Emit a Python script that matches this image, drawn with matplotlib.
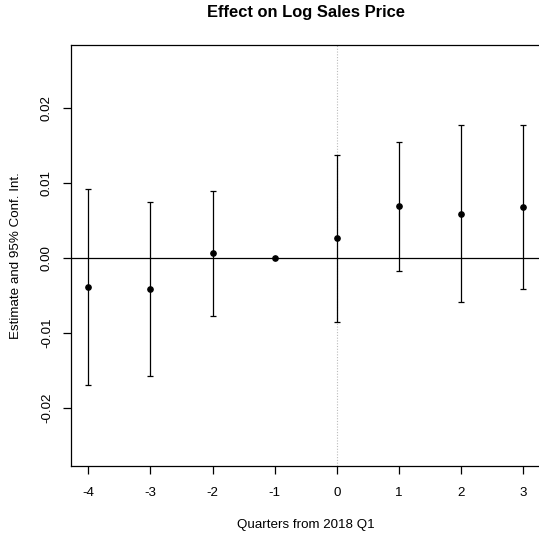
import matplotlib
matplotlib.use("Agg")
import matplotlib.pyplot as plt

plt.rcParams['font.family'] = ['Liberation Sans', 'DejaVu Sans']

# Event-study estimates and 95% confidence bounds
quarters = [-4, -3, -2, -1, 0, 1, 2, 3]
estimate = [-0.0039, -0.0042, 0.0006, 0.0, 0.0026, 0.0069, 0.0059, 0.0068]
ci_low = [-0.0170, -0.0158, -0.0078, 0.0, -0.0085, -0.0017, -0.0059, -0.0041]
ci_high = [0.0092, 0.0074, 0.0089, 0.0, 0.0137, 0.0154, 0.0177, 0.0177]
y_ticks = [-0.02, -0.01, 0.00, 0.01, 0.02]
y_tick_labels = ["-0.02", "-0.01", "0.00", "0.01", "0.02"]

fig = plt.figure(figsize=(5.39, 5.36), dpi=100)
ax = fig.add_axes([71 / 539, (536 - 465.5) / 536, (540.4 - 71) / 539, (465.5 - 45) / 536])

ax.axvline(0, color="#bbbbbb", lw=0.8, ls=(0, (1, 1.5)), zorder=1)
ax.axhline(0, color="black", lw=0.9, zorder=1)

# Intervals (skip the reference period, which has no interval)
for q, e, lo, hi in zip(quarters, estimate, ci_low, ci_high):
    if lo != hi:
        ax.errorbar([q], [e], yerr=[[e - lo], [hi - e]], fmt="none",
                    ecolor="black", elinewidth=0.9, capsize=2.2, capthick=0.9, zorder=2)
ax.plot(quarters, estimate, "o", color="black", ms=3.8, zorder=3)

ax.set_xlim(-4.28, 3.28)
ax.set_ylim(-0.02767, 0.0284)
ax.set_xticks(quarters)
ax.set_xticklabels([str(q) for q in quarters])
ax.set_yticks(y_ticks)
ax.set_yticklabels(y_tick_labels, rotation=90, va="center")

for s in ax.spines.values():
    s.set_linewidth(0.9)
ax.tick_params(direction="out", length=6, width=0.9, labelsize=9.6)
ax.tick_params(axis="x", pad=9.7)
ax.tick_params(axis="y", pad=7)

ax.set_xlabel("Quarters from 2018 Q1", fontsize=9.6, labelpad=14)
ax.set_ylabel("Estimate and 95% Conf. Int.", fontsize=9.6, labelpad=13.5)
fig.text((71 + 540.4) / 2 / 539, 1 - 12 / 536, "Effect on Log Sales Price",
         ha="center", va="center", fontsize=11.9, fontweight="bold")

fig.savefig("out.png", dpi=100)
